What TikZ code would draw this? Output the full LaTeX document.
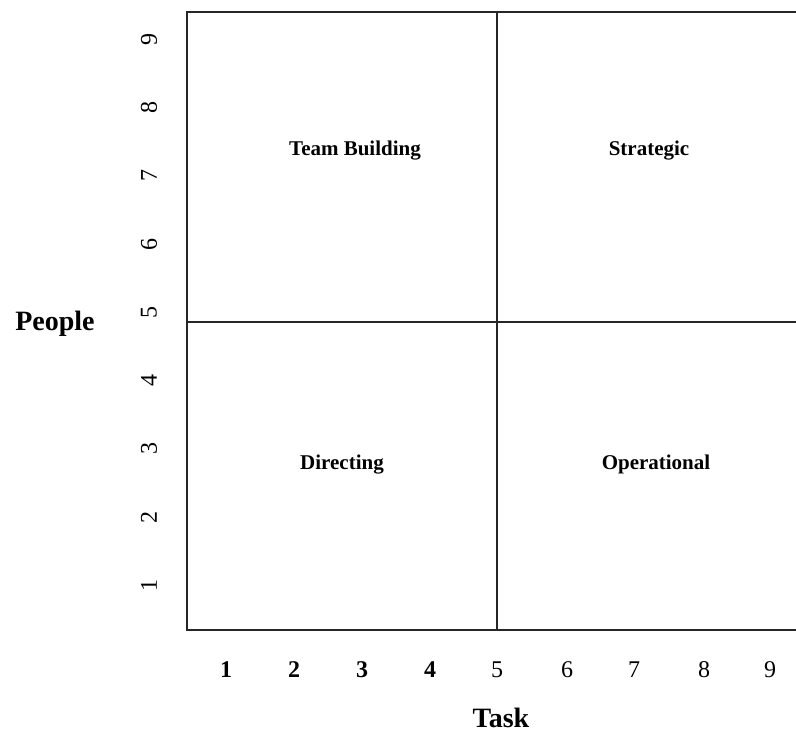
\documentclass[tikz,border=0pt]{standalone}
\usepackage{fontspec}
\setmainfont{Liberation Serif}
\begin{document}
\begin{tikzpicture}[x=1pt,y=-1pt,
  frame/.style={line width=2pt,draw=black!85},
  quad/.style={font=\fontsize{21}{23}\selectfont\bfseries,anchor=base,inner sep=0pt},
  axlabel/.style={font=\fontsize{28}{30}\selectfont\bfseries,anchor=base,inner sep=0pt},
  ynum/.style={font=\fontsize{24}{26}\selectfont,rotate=90,inner sep=0pt},
  xnum/.style={font=\fontsize{24}{26}\selectfont,inner sep=0pt},
  xnumb/.style={font=\fontsize{24}{26}\selectfont\bfseries,inner sep=0pt}]
\useasboundingbox (0,0) rectangle (796,734);
% frame coordinates
\coordinate (tl) at (187,11.5);
\coordinate (tr) at (796,11.5);
\coordinate (bl) at (187,630);
\coordinate (br) at (796,630);
\coordinate (mt) at (497,11.5);
\coordinate (mb) at (497,630);
\coordinate (ml) at (187,321.5);
\coordinate (mr) at (796,321.5);
\draw[frame] (tr) -- (tl) -- (bl) -- (br);
\draw[frame] (mt) -- (mb);
\draw[frame] (ml) -- (mr);
% quadrant labels
\node[quad] (tb) at (355,155) {Team Building};
\node[quad] (st) at (649,155) {Strategic};
\node[quad] (di) at (342,469) {Directing};
\node[quad] (op) at (656,469) {Operational};
% axis labels
\node[axlabel] (people) at (55,330) {People};
\node[axlabel] (task) at (501,727) {Task};
% y numbers
\node[ynum] (y1) at (149,585) {1};
\node[ynum] (y2) at (149,517) {2};
\node[ynum] (y3) at (149,448) {3};
\node[ynum] (y4) at (149,380) {4};
\node[ynum] (y5) at (149,312) {5};
\node[ynum] (y6) at (149,244) {6};
\node[ynum] (y7) at (149,175) {7};
\node[ynum] (y8) at (149,107) {8};
\node[ynum] (y9) at (149,39) {9};
% x numbers
\node[xnumb] (x1) at (226,670) {1};
\node[xnumb] (x2) at (294,670) {2};
\node[xnumb] (x3) at (362,670) {3};
\node[xnumb] (x4) at (430,670) {4};
\node[xnum] (x5) at (497,670) {5};
\node[xnum] (x6) at (567,670) {6};
\node[xnum] (x7) at (634,670) {7};
\node[xnum] (x8) at (704,670) {8};
\node[xnum] (x9) at (770,670) {9};
\end{tikzpicture}
\end{document}
